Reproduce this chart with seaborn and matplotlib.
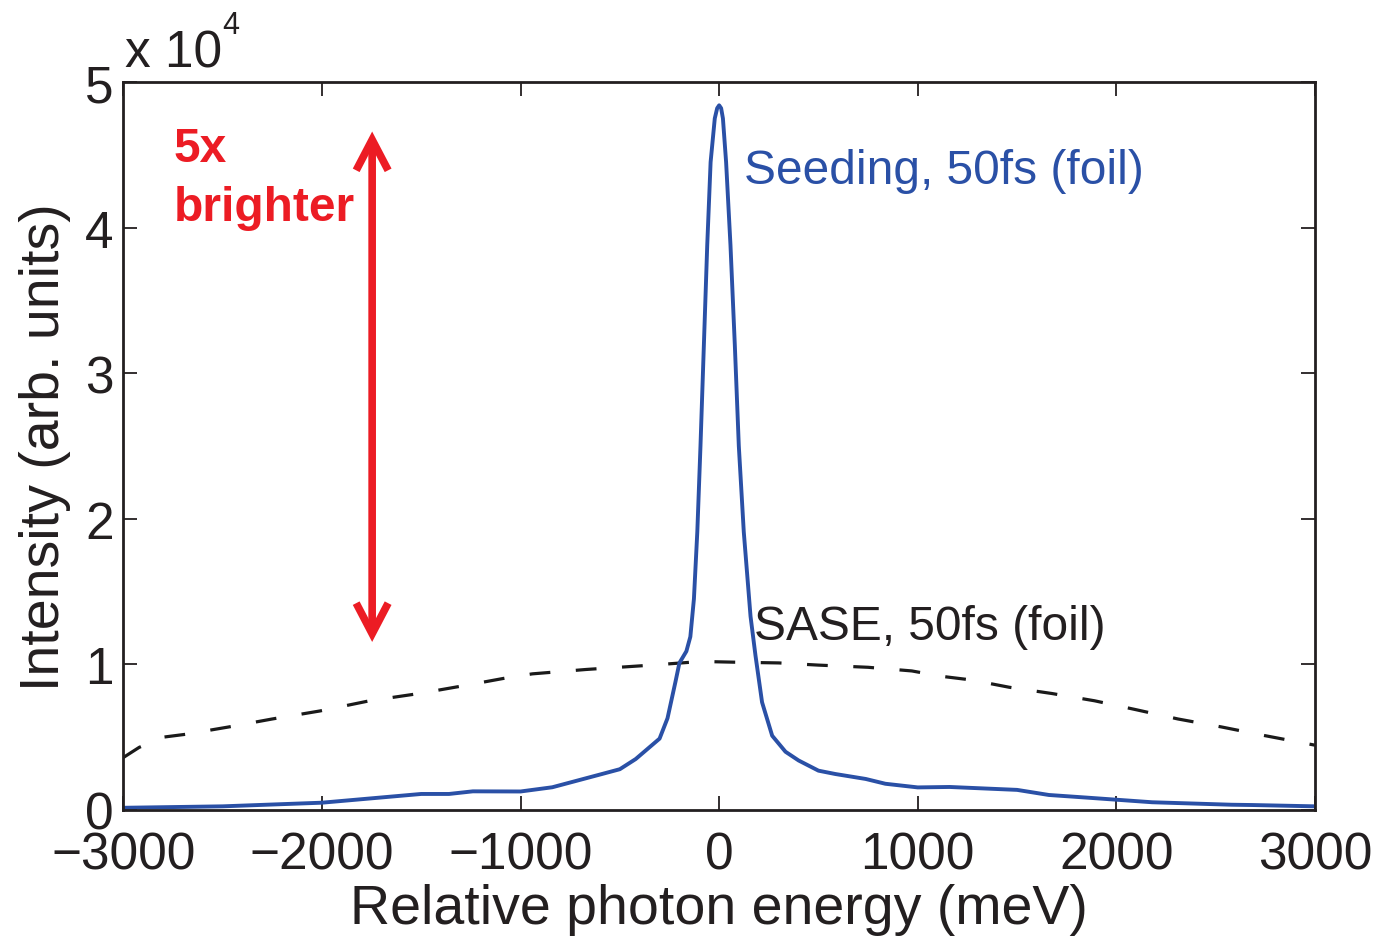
import numpy as np
import pandas as pd
import matplotlib
matplotlib.use("Agg")
import matplotlib.pyplot as plt
import seaborn as sns

# Relative photon energy (meV) and intensity (in units of 1e4) for the seeded spectrum
seed_energy = [-3000, -2500, -2000, -1750, -1500, -1360, -1240, -1000, -840, -590,
               -500, -420, -300, -260, -220, -200, -165, -145, -127, -110,
               -94, -77, -60, -43, -22, -10, 0, 10, 19, 35,
               57, 79, 99, 124, 158, 183, 216, 267, 334, 400,
               500, 585, 738, 837, 1000, 1160, 1500, 1660, 1850, 2180,
               2580, 2683, 3000]
seed_intensity = [0.015, 0.025, 0.05, 0.08, 0.11, 0.11, 0.128, 0.127, 0.156, 0.247,
                  0.28, 0.35, 0.49, 0.63, 0.88, 1.01, 1.09, 1.19, 1.45, 1.91,
                  2.50, 3.19, 3.88, 4.45, 4.75, 4.82, 4.84, 4.82, 4.75, 4.45,
                  3.88, 3.19, 2.50, 1.91, 1.33, 1.06, 0.74, 0.51, 0.40, 0.34,
                  0.27, 0.247, 0.213, 0.18, 0.155, 0.158, 0.138, 0.103, 0.085, 0.053,
                  0.036, 0.034, 0.025]

# SASE spectrum, same units
sase_energy = [-3000, -2920, -2800, -2685, -2470, -2250, -2010, -1760, -1510, -1280,
               -1060, -940, -670, -340, -90, 80, 300, 500, 750, 970,
               1120, 1270, 1460, 1675, 1890, 2095, 2310, 2530, 2750, 3000]
sase_intensity = [0.36, 0.43, 0.50, 0.52, 0.57, 0.625, 0.68, 0.75, 0.80, 0.855,
                  0.91, 0.935, 0.965, 0.995, 1.02, 1.015, 1.01, 0.995, 0.98, 0.955,
                  0.918, 0.893, 0.843, 0.80, 0.75, 0.69, 0.625, 0.57, 0.51, 0.445]

x_ticks = [-3000, -2000, -1000, 0, 1000, 2000, 3000]
y_ticks = [0, 1, 2, 3, 4, 5]

seed_label = "Seeding, 50fs (foil)"
sase_label = "SASE, 50fs (foil)"
gain_label_1 = "5x"
gain_label_2 = "brighter"
arrow_energy = -1747
arrow_span = [1.154, 4.66]

sns.set_style("ticks")
plt.rcParams["font.family"] = ["Liberation Sans", "DejaVu Sans"]
plt.rcParams["axes.unicode_minus"] = True

BLUE = "#2A50A6"
RED = "#EC1C24"
INK = "#231F20"

fig = plt.figure(figsize=(13.79, 9.37), dpi=100)
ax = fig.add_axes([0.0894, 0.1345, 0.8642, 0.7769])

seed_df = pd.DataFrame({"energy": seed_energy, "intensity": seed_intensity})
sase_df = pd.DataFrame({"energy": sase_energy, "intensity": sase_intensity})

sns.lineplot(data=sase_df, x="energy", y="intensity", ax=ax, color="#1A1A1A",
             lw=2.3, sort=False)
ax.lines[-1].set_dashes((6.5, 8.0))
sns.lineplot(data=seed_df, x="energy", y="intensity", ax=ax, color=BLUE,
             lw=2.8, sort=False)

ax.set_xlim(-3000, 3000)
ax.set_ylim(0, 5)
ax.set_xticks(x_ticks)
ax.set_yticks(y_ticks)
ax.set_xticklabels([f"{v}".replace("-", "\u2212") for v in x_ticks])
ax.set_yticklabels([str(v) for v in y_ticks])
ax.tick_params(axis="both", which="major", direction="in", length=10, width=1.3,
               labelsize=37, colors=INK, top=True, right=True)
ax.tick_params(axis="x", pad=15)
ax.tick_params(axis="y", pad=7)
for s in ax.spines.values():
    s.set_linewidth(2.0)
    s.set_color(INK)
    s.set_visible(True)

ax.set_xlabel("Relative photon energy (meV)", fontsize=40, color=INK, labelpad=2)
ax.set_ylabel("Intensity (arb. units)", fontsize=40, color=INK, labelpad=10)

# Scale factor above the y axis
fig.text(125 / 1379, 1 - 67 / 937, "x 10", fontsize=37, color=INK, ha="left", va="baseline")
fig.text(222 / 1379, 1 - 34 / 937, "4", fontsize=22, color=INK, ha="left", va="baseline")

# Curve labels
ax.text(124, 4.39, seed_label, fontsize=34.5, color=BLUE, ha="left", va="center")
ax.text(174, 1.257, sase_label, fontsize=34.5, color=INK, ha="left", va="center")

# Brightness gain annotation
ax.text(-2747, 4.54, gain_label_1, fontsize=34.5, color=RED, fontweight="bold",
        ha="left", va="center")
ax.text(-2747, 4.14, gain_label_2, fontsize=34.5, color=RED, fontweight="bold",
        ha="left", va="center")
ax.annotate("", xy=(arrow_energy, arrow_span[1]), xytext=(arrow_energy, arrow_span[0]),
            arrowprops=dict(arrowstyle="<->,head_length=2.2,head_width=1.15",
                            color=RED, lw=5.5, shrinkA=0, shrinkB=0,
                            joinstyle="miter", capstyle="butt"))

fig.savefig("out.png", dpi=100)
